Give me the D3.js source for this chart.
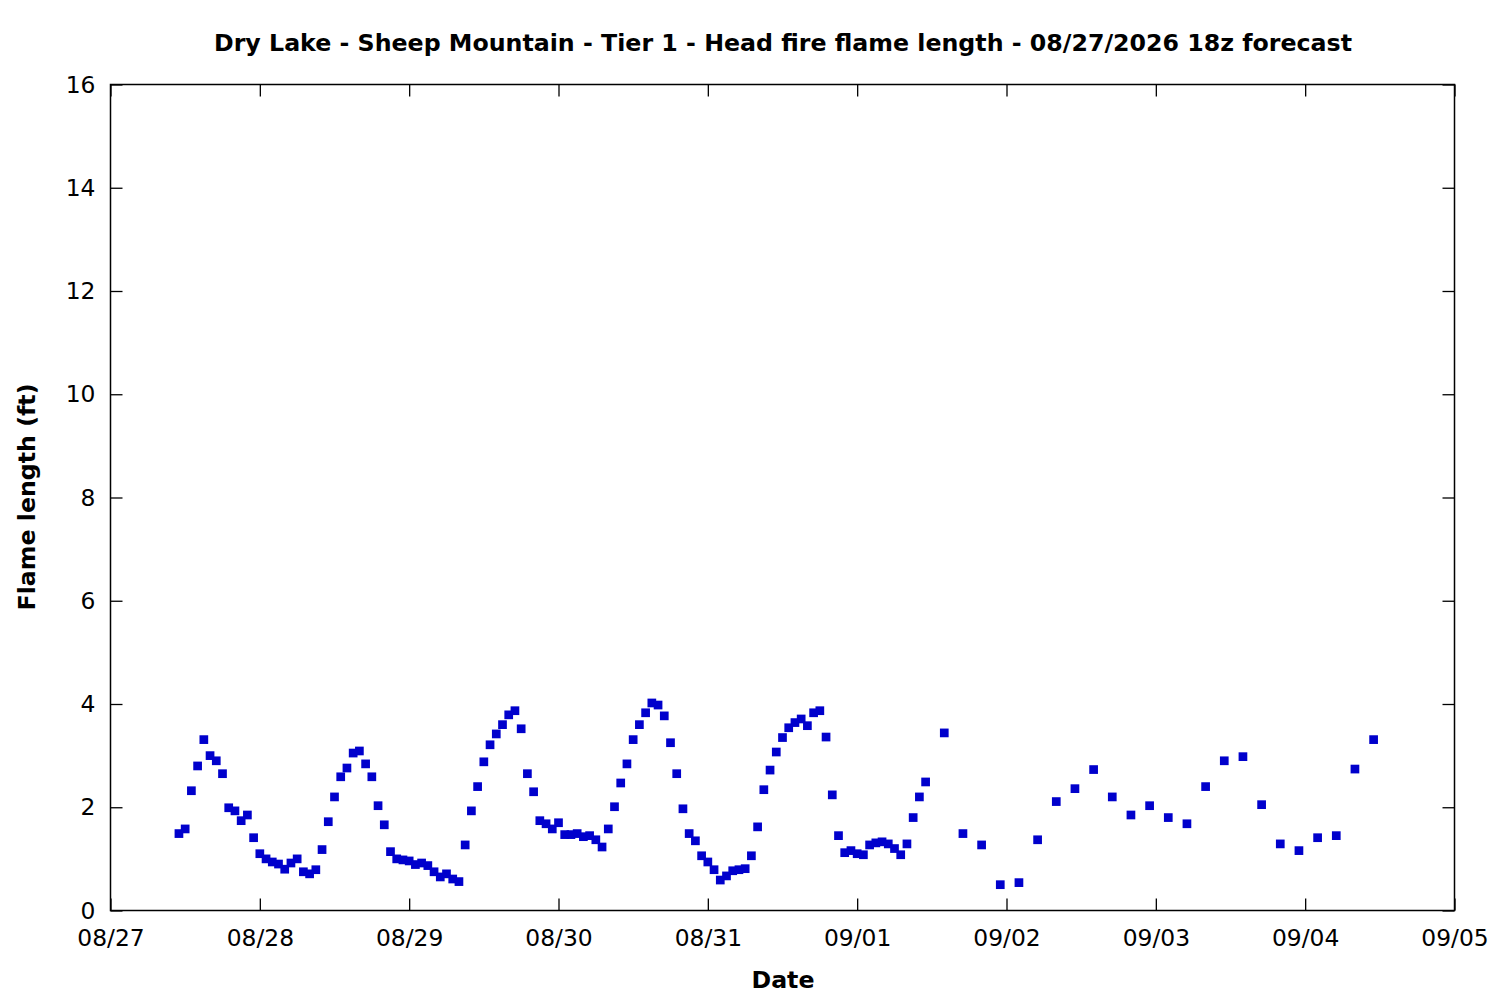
<!DOCTYPE html>
<html>
<head>
<meta charset="utf-8">
<script src="https://cdn.jsdelivr.net/npm/d3@7"></script>
<style>
  html, body { margin: 0; padding: 0; background: #fff; }
  svg { display: block; font-family: "DejaVu Sans", sans-serif; }
</style>
</head>
<body>
<svg id="chart" width="1500" height="1000"></svg>
<script>
// Forecast hour offsets from 2026-08-27 00:00
const hoursOffset = [
  11,12,13,14,15,16,17,18,19,20,21,22,23,24,25,26,27,28,29,30,31,32,33,34,35,36,37,38,39,40,
  41,42,43,44,45,46,47,48,49,50,51,52,53,54,55,56,57,58,59,60,61,62,63,64,65,66,67,68,69,70,
  71,72,73,74,75,76,77,78,79,80,81,82,83,84,85,86,87,88,89,90,91,92,93,94,95,96,97,98,99,100,
  101,102,103,104,105,106,107,108,109,110,111,112,113,114,115,116,117,118,119,120,121,122,123,124,125,126,127,128,129,130,
  131,134,137,140,143,146,149,152,155,158,161,164,167,170,173,176,179,182,185,188,191,194,197,200,203
];
const flameLength = [
  1.49,1.58,2.32,2.80,3.31,3.00,2.90,2.65,1.99,1.93,1.74,1.85,1.41,1.10,1.00,0.94,0.90,0.80,0.92,1.00,
  0.75,0.71,0.79,1.18,1.72,2.20,2.59,2.76,3.05,3.09,2.84,2.59,2.03,1.66,1.14,1.00,0.98,0.96,0.89,0.92,
  0.87,0.75,0.65,0.71,0.61,0.56,1.27,1.93,2.40,2.88,3.21,3.42,3.60,3.79,3.87,3.52,2.65,2.30,1.74,1.68,
  1.58,1.70,1.47,1.47,1.49,1.43,1.45,1.37,1.23,1.58,2.01,2.47,2.84,3.31,3.60,3.83,4.02,3.98,3.77,3.25,
  2.65,1.97,1.49,1.35,1.06,0.94,0.79,0.59,0.67,0.77,0.79,0.81,1.06,1.62,2.34,2.72,3.07,3.35,3.54,3.64,
  3.71,3.58,3.83,3.87,3.36,2.24,1.45,1.12,1.16,1.10,1.08,1.27,1.31,1.33,1.29,1.20,1.08,1.29,1.80,2.20,
  2.49,3.44,1.49,1.27,0.50,0.54,1.37,2.11,2.36,2.73,2.20,1.85,2.03,1.80,1.68,2.40,2.90,2.98,2.05,1.29,
  1.16,1.41,1.45,2.74,3.31
];
const yTicks = [0,2,4,6,8,10,12,14,16];
const xTickLabels = ["08/27","08/28","08/29","08/30","08/31","09/01","09/02","09/03","09/04","09/05"];
const titleText = "Dry Lake - Sheep Mountain - Tier 1 - Head fire flame length - 08/27/2026 18z forecast";
const xLabel = "Date";
const yLabel = "Flame length (ft)";

const start = Date.UTC(2026, 7, 27);
const data = hoursOffset.map((h, i) => ({ t: new Date(start + h * 3600e3), v: flameLength[i] }));
const xTickDates = xTickLabels.map((_, i) => new Date(start + i * 86400e3));

const L = 110.5, R = 1454.5, T = 84.5, B = 910.5;
const svg = d3.select("#chart");
const x = d3.scaleUtc().domain([xTickDates[0], xTickDates[xTickDates.length - 1]]).range([L, R]);
const y = d3.scaleLinear().domain([0, 16]).range([B, T]);

const fs = 23.4, fsb = 23.7;
// bottom axis
const gB = svg.append("g").attr("transform", `translate(0,${B})`)
  .call(d3.axisBottom(x).tickValues(xTickDates).tickFormat((d, i) => xTickLabels[i]).tickSizeInner(-12).tickSizeOuter(0).tickPadding(19));
// top axis
const gT = svg.append("g").attr("transform", `translate(0,${T})`)
  .call(d3.axisTop(x).tickValues(xTickDates).tickFormat("").tickSizeInner(-12).tickSizeOuter(0));
// left axis
const gL = svg.append("g").attr("transform", `translate(${L},0)`)
  .call(d3.axisLeft(y).tickValues(yTicks).tickSizeInner(-12).tickSizeOuter(0).tickPadding(15));
// right axis
const gR = svg.append("g").attr("transform", `translate(${R},0)`)
  .call(d3.axisRight(y).tickValues(yTicks).tickFormat("").tickSizeInner(-12).tickSizeOuter(0));

[gB, gT, gL, gR].forEach(g => {
  g.select(".domain").remove();
  g.selectAll("line").attr("stroke", "#000").attr("stroke-width", 1.3);
  g.selectAll("text").attr("font-family", "DejaVu Sans").attr("font-size", fs).attr("fill", "#000");
});
gB.selectAll("text").attr("dy", "0.71em");

// frame
svg.append("rect").attr("x", L).attr("y", T).attr("width", R - L).attr("height", B - T)
  .attr("fill", "none").attr("stroke", "#000").attr("stroke-width", 1.5);

// points
const s = 8.7;
svg.append("g").selectAll("rect").data(data).join("rect")
  .attr("x", d => x(d.t) - s / 2).attr("y", d => y(d.v) - s / 2)
  .attr("width", s).attr("height", s).attr("fill", "#0000cc");

// title
svg.append("text").attr("x", 783).attr("y", 51).attr("text-anchor", "middle")
  .attr("font-size", fsb).attr("font-weight", "bold").text(titleText);
// x label
svg.append("text").attr("x", 783).attr("y", 988).attr("text-anchor", "middle")
  .attr("font-size", fsb).attr("font-weight", "bold").text(xLabel);
// y label
svg.append("text").attr("transform", `translate(35,497) rotate(-90)`).attr("text-anchor", "middle")
  .attr("font-size", fsb).attr("font-weight", "bold").text(yLabel);
</script>
</body>
</html>
